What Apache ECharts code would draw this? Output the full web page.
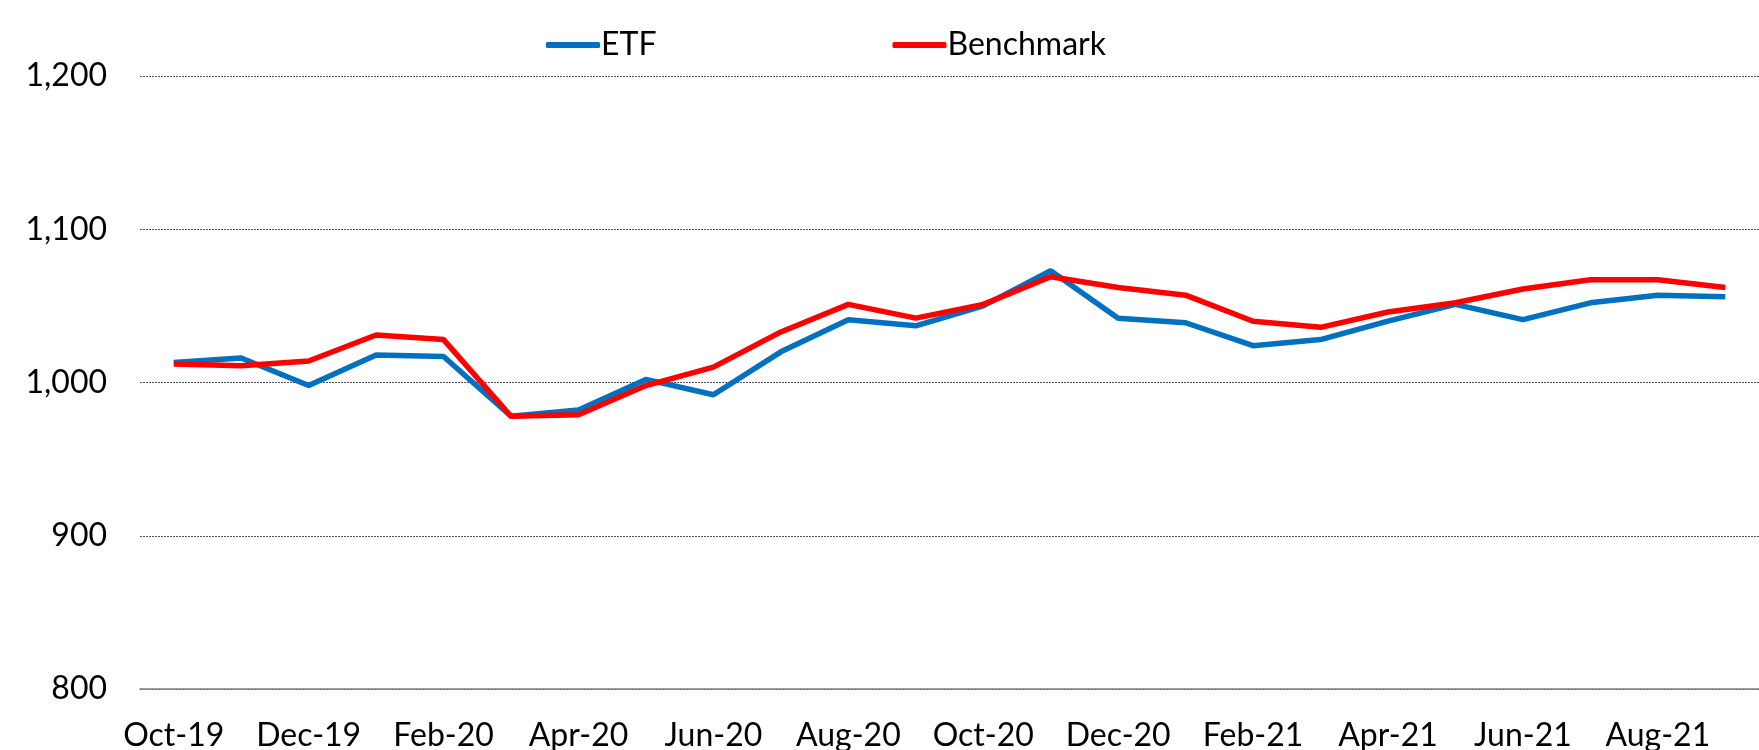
<!DOCTYPE html>
<html>
<head>
<meta charset="utf-8">
<script src="https://cdn.jsdelivr.net/npm/echarts@6/dist/echarts.min.js"></script>
<style>
  html, body { margin: 0; padding: 0; background: #fff; }
  #main { width: 1759px; height: 750px; }
</style>
</head>
<body>
<div id="main"></div>
<script>
// monthly categories, Oct-19 .. Sep-21
const months = ['Oct-19', 'Nov-19', 'Dec-19', 'Jan-20', 'Feb-20', 'Mar-20', 'Apr-20', 'May-20',
  'Jun-20', 'Jul-20', 'Aug-20', 'Sep-20', 'Oct-20', 'Nov-20', 'Dec-20', 'Jan-21',
  'Feb-21', 'Mar-21', 'Apr-21', 'May-21', 'Jun-21', 'Jul-21', 'Aug-21', 'Sep-21'];

const etf = [1013, 1016, 998, 1018, 1017, 978, 982, 1002, 992, 1020, 1041, 1037,
  1050, 1073, 1042, 1039, 1024, 1028, 1040, 1051, 1041, 1052, 1057, 1056];

const benchmark = [1012, 1011, 1014, 1031, 1028, 978, 979, 998, 1010, 1033, 1051, 1042,
  1051, 1069, 1062, 1057, 1040, 1036, 1046, 1052, 1061, 1067, 1067, 1062];

const seriesNames = ['ETF', 'Benchmark'];

const myChart = echarts.init(document.getElementById('main'));
const font = 'Lato, "Open Sans", sans-serif';

const option = {
  animation: false,
  backgroundColor: '#fff',
  textStyle: { fontFamily: font },
  legend: {
    data: seriesNames,
    left: 541,
    top: 24,
    icon: 'roundRect',
    itemWidth: 54,
    itemHeight: 6,
    itemGap: 236,
    textStyle: { fontFamily: font, fontSize: 32, color: '#000', padding: [0, 0, 0, -4] }
  },
  grid: { left: 140, right: 0, top: 76, bottom: 61, containLabel: false, outerBoundsMode: 'none' },
  xAxis: {
    type: 'category',
    data: months,
    boundaryGap: true,
    axisLine: { lineStyle: { color: '#808080', width: 1.5 } },
    axisTick: { interval: 1, length: 13, lineStyle: { color: '#808080', width: 1.5 } },
    axisLabel: { interval: 1, margin: 31, fontSize: 32, color: '#000', fontFamily: font },
    splitLine: { show: false }
  },
  yAxis: {
    type: 'value',
    min: 800,
    max: 1200,
    interval: 100,
    axisLine: { show: false },
    axisTick: { show: false },
    axisLabel: {
      margin: 33, fontSize: 32, color: '#000', fontFamily: font,
      formatter: v => v.toLocaleString('en-US')
    },
    splitLine: { lineStyle: { color: '#555', type: [2, 1], width: 1 } }
  },
  series: [
    {
      name: 'ETF',
      type: 'line',
      data: etf,
      symbol: 'none',
      lineStyle: { color: '#0070C0', width: 5.5 },
      itemStyle: { color: '#0070C0' }
    },
    {
      name: 'Benchmark',
      type: 'line',
      data: benchmark,
      symbol: 'none',
      lineStyle: { color: '#FF0000', width: 5.5 },
      itemStyle: { color: '#FF0000' }
    }
  ]
};

myChart.setOption(option);
window.onresize = function () {
  myChart.resize();
};
</script>
</body>
</html>
